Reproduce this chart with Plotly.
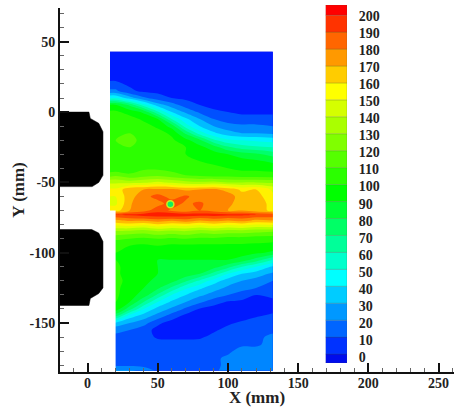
import plotly.graph_objects as go

FONT = "Liberation Serif"

x_grid = [16, 20, 30, 40, 50, 60, 70, 80, 90, 100, 110, 120, 132]
y_grid = [43, 25, 15, 10, 5, 0, -5, -10, -15, -20, -25, -30, -35, -40, -45, -50, -55, -60, -65, -70,
          -73, -77, -81, -85, -90, -95, -100, -105, -110, -115, -120, -125, -130, -135, -140, -145,
          -150, -155, -160, -165, -170, -175, -180, -184]
z_rows = [
    [5, 5, 5, 5, 5, 5, 5, 5, 5, 5, 5, 5, 5],
    [5, 5, 5, 5, 5, 5, 5, 5, 5, 5, 5, 5, 5],
    [22, 22, 12, 8, 7, 6, 5, 5, 5, 5, 5, 5, 5],
    [50, 50, 35, 22, 15, 10, 8, 5, 5, 5, 5, 5, 5],
    [92, 92, 78, 55, 35, 25, 15, 10, 7, 5, 5, 5, 5],
    [102, 102, 96, 88, 62, 40, 28, 18, 12, 10, 8, 8, 8],
    [106, 106, 104, 98, 90, 60, 42, 30, 20, 15, 14, 14, 14],
    [108, 108, 108, 104, 98, 86, 55, 40, 30, 24, 22, 22, 20],
    [110, 110, 110, 106, 104, 98, 78, 55, 42, 34, 30, 30, 28],
    [110, 110, 112, 108, 104, 102, 93, 82, 62, 52, 50, 48, 46],
    [106, 106, 110, 110, 106, 102, 100, 93, 85, 72, 65, 62, 60],
    [104, 104, 108, 108, 106, 102, 100, 98, 94, 90, 85, 82, 76],
    [102, 102, 104, 108, 106, 104, 102, 100, 98, 96, 94, 92, 88],
    [102, 102, 104, 108, 108, 106, 104, 104, 102, 100, 98, 98, 96],
    [116, 118, 112, 116, 118, 114, 110, 108, 106, 106, 104, 104, 104],
    [138, 138, 136, 138, 142, 138, 134, 132, 134, 130, 130, 130, 128],
    [152, 152, 168, 170, 172, 172, 168, 170, 172, 166, 158, 160, 148],
    [150, 150, 166, 176, 184, 176, 182, 174, 178, 176, 164, 165, 152],
    [148, 148, 168, 180, 176, 185, 178, 182, 174, 174, 162, 168, 155],
    [155, 155, 170, 176, 186, 178, 174, 180, 176, 170, 170, 164, 158],
    [190, 190, 192, 195, 196, 198, 195, 194, 194, 193, 192, 190, 188],
    [168, 168, 172, 172, 176, 172, 176, 170, 174, 170, 174, 168, 170],
    [148, 148, 150, 146, 152, 148, 150, 146, 150, 146, 148, 144, 145],
    [128, 128, 126, 124, 128, 126, 128, 124, 126, 124, 124, 122, 120],
    [112, 112, 110, 108, 110, 108, 110, 108, 108, 106, 106, 104, 104],
    [102, 102, 100, 98, 100, 98, 98, 98, 98, 98, 98, 98, 96],
    [100, 100, 98, 94, 94, 92, 92, 94, 94, 94, 94, 92, 88],
    [100, 100, 96, 92, 90, 90, 90, 90, 90, 90, 86, 76, 60],
    [102, 102, 96, 92, 90, 90, 88, 88, 84, 74, 60, 50, 38],
    [102, 102, 96, 92, 90, 88, 86, 80, 66, 50, 40, 35, 28],
    [102, 102, 98, 92, 88, 84, 72, 58, 45, 35, 30, 26, 20],
    [102, 102, 96, 90, 82, 68, 52, 42, 34, 28, 24, 20, 18],
    [102, 102, 94, 86, 68, 50, 40, 32, 26, 20, 15, 10, 12],
    [100, 100, 90, 70, 50, 38, 30, 22, 14, 9, 8, 7, 8],
    [96, 96, 74, 50, 36, 28, 18, 9, 6, 5, 5, 5, 7],
    [72, 72, 45, 35, 26, 15, 7, 6, 5, 5, 5, 9, 12],
    [38, 38, 30, 24, 12, 6, 5, 5, 5, 8, 12, 15, 14],
    [22, 22, 20, 14, 7, 5, 5, 5, 8, 14, 16, 16, 18],
    [18, 18, 17, 16, 8, 7, 7, 8, 14, 16, 18, 18, 22],
    [16, 16, 16, 15, 16, 16, 16, 16, 16, 18, 18, 18, 24],
    [16, 16, 16, 16, 16, 16, 16, 16, 18, 18, 24, 24, 26],
    [16, 16, 16, 16, 16, 16, 16, 16, 18, 22, 26, 26, 26],
    [18, 18, 18, 16, 16, 16, 16, 16, 18, 22, 26, 26, 26],
    [32, 32, 32, 28, 18, 16, 16, 16, 18, 24, 26, 26, 28],
]
# white notch below the strip at the lower-left of the measured field
notch_x = [15, 20, 20, 15, 15]
notch_y = [-70, -70, -185, -185, -70]

dot_x = [59]
dot_y = [-65.5]

block_top_x = [-19.6, 1, 2, 8, 11, 11, 8, 3.3, -19.6]
block_top_y = [0, 0, -4.5, -8, -14, -45, -50, -53, -53]
block_low_x = [-19.6, 3, 8, 11, 11, 8, 2, 1, -19.6]
block_low_y = [-83.5, -83.5, -86, -92, -125, -129, -132.5, -137.5, -137.5]

x_ticks = [0, 50, 100, 150, 200, 250]
y_ticks = [50, 0, -50, -100, -150]
y_labels = ["50", "0", "-50", "-100", "-150"]
level_ticks = list(range(0, 201, 10))

# legend bands: lower edge, height, colour value
band_base = [-3.5] + [v * 0.994 + 1.76 for v in level_ticks]
band_top = band_base[1:] + [206.5]
band_mid = [-5] + [v + 5 for v in level_ticks]

Z_MIN, Z_MAX = -10, 210
stops = [(-10, "#0000d8"), (0, "#0018ff"), (45, "#00ffff"), (95, "#00ff00"),
         (155, "#ffff00"), (205, "#ff0000"), (210, "#ff0000")]
colorscale = [[(v - Z_MIN) / (Z_MAX - Z_MIN), c] for v, c in stops]

fig = go.Figure()
fig.add_trace(go.Contour(
    x=x_grid, y=y_grid, z=z_rows, colorscale=colorscale, zmin=Z_MIN, zmax=Z_MAX, zauto=False,
    contours=dict(start=0, end=200, size=10, coloring="fill", showlines=False),
    line=dict(width=0), autocontour=False, showscale=False,
))
fig.add_trace(go.Scatter(x=notch_x, y=notch_y, mode="lines", fill="toself", fillcolor="white",
                         line=dict(color="white", width=0), showlegend=False))
for bx, by in ((block_top_x, block_top_y), (block_low_x, block_low_y)):
    fig.add_trace(go.Scatter(x=bx, y=by, mode="lines", fill="toself", fillcolor="black",
                             line=dict(color="black", width=0.5), showlegend=False))
fig.add_trace(go.Scatter(x=dot_x, y=dot_y, mode="markers", showlegend=False,
                         marker=dict(size=7, color="#10f060", line=dict(color="#c8f020", width=1.5))))
fig.add_trace(go.Bar(
    x=[0] * len(band_mid), y=[t - b for t, b in zip(band_top, band_base)], base=band_base, width=1,
    xaxis="x2", yaxis="y2", showlegend=False,
    marker=dict(color=band_mid, colorscale=colorscale, cmin=Z_MIN, cmax=Z_MAX,
                line=dict(color="rgba(60,80,60,0.35)", width=0.6)),
))

text_font = dict(family=FONT, size=14, color="#222222", weight="bold")
title_font = dict(family=FONT, size=17, color="#222222", weight="bold")
axis_common = dict(
    showgrid=False, zeroline=False, showline=True, linecolor="#111111", linewidth=2,
    ticks="inside", ticklen=9, tickwidth=2, tickcolor="#111111",
    tickfont=text_font,
    minor=dict(ticks="inside", ticklen=4, tickwidth=1, tickcolor="#666666", dtick=10, showgrid=False),
    automargin=False,
)
PW, PH = 394, 368
PX0, PY1 = 60, 372
fig.update_layout(
    width=454, height=407, autosize=False, showlegend=False, barmode="overlay",
    margin=dict(l=60, r=0, t=4, b=35), paper_bgcolor="white", plot_bgcolor="white",
    xaxis=dict(range=[-19.6, 261], tickmode="array", tickvals=x_ticks, ticklabelstandoff=-3,
               title=dict(text="X (mm)", standoff=0, font=title_font), **axis_common),
    yaxis=dict(domain=[0, (PY1 - 8) / PH], range=[-184.8, 74], tickmode="array", tickvals=y_ticks,
               ticktext=y_labels, title=dict(text="Y (mm)", standoff=1, font=title_font), **axis_common),
    xaxis2=dict(domain=[(325.5 - PX0) / PW, (347 - PX0) / PW], range=[-0.5, 0.5], anchor="y2",
                visible=False, fixedrange=True),
    yaxis2=dict(domain=[(PY1 - 363) / PH, (PY1 - 5) / PH], range=[-3.5, 206.5], anchor="x2", side="right",
                tickmode="array", tickvals=level_ticks, ticktext=[str(v) for v in level_ticks],
                showgrid=False, zeroline=False, showline=False, ticks="outside", ticklen=8,
                tickcolor="rgba(0,0,0,0)", tickfont=text_font, fixedrange=True),
)
fig.write_html("out.html", config=dict(displayModeBar=False),
               post_script="document.body.style.margin='0';document.body.style.overflow='hidden';")
